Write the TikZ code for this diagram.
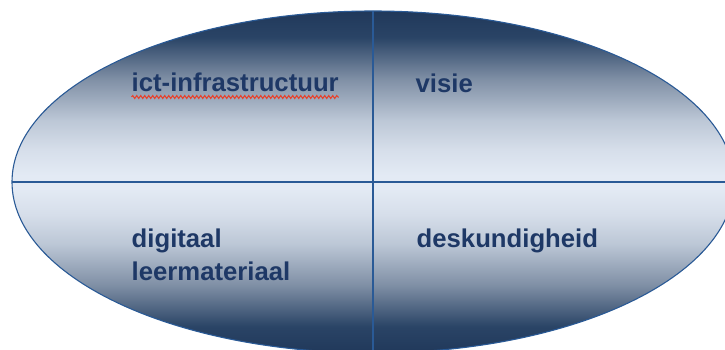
\documentclass[tikz,border=0pt]{standalone}
\usepackage{fontspec}
\setmainfont{Liberation Sans}
\usetikzlibrary{decorations.pathmorphing}
\definecolor{navy}{HTML}{20385A}
\definecolor{deepblue}{HTML}{2A4466}
\definecolor{midblue}{HTML}{7F8FA5}
\definecolor{softblue}{HTML}{BCC7D6}
\definecolor{mistblue}{HTML}{D6DEEA}
\definecolor{pale}{HTML}{E3EAF4}
\definecolor{rimblue}{HTML}{2A5A96}
\definecolor{ink}{HTML}{1E3866}
\definecolor{spell}{HTML}{E8402A}
% dark at the rim, pale at the middle line
\pgfdeclareverticalshading{upperhalf}{100bp}{color(0bp)=(pale); color(27bp)=(pale);
  color(34.5bp)=(mistblue); color(43bp)=(softblue); color(55bp)=(midblue);
  color(67bp)=(deepblue); color(75bp)=(navy); color(100bp)=(navy)}
\pgfdeclareverticalshading{lowerhalf}{100bp}{color(0bp)=(navy); color(25bp)=(navy);
  color(33bp)=(deepblue); color(45bp)=(midblue); color(57bp)=(softblue);
  color(65.5bp)=(mistblue); color(73bp)=(pale); color(100bp)=(pale)}
\begin{document}
\begin{tikzpicture}[x=1pt,y=1pt,
  lbl/.style={anchor=base west,inner sep=0pt,text=ink,align=left,
    font=\fontsize{25.7pt}{32.5pt}\selectfont\bfseries}]
\useasboundingbox (0,0) rectangle (725,349);
% centre of the oval
\coordinate (c) at (373,167);
% shaded halves
\begin{scope}
\clip (c) ellipse (361 and 171);
\shade[shading=upperhalf] (0,167) rectangle (740,339);
\shade[shading=lowerhalf] (0,-5) rectangle (740,167);
\end{scope}
% outline and cross
\draw[rimblue,line width=1.1pt] (c) ellipse (361 and 171);
\coordinate (top) at (373,338);
\coordinate (bot) at (373,-5);
\coordinate (lft) at (12,167);
\coordinate (rgt) at (740,167);
\draw[rimblue,line width=1.6pt] (top) -- (bot);
\draw[rimblue,line width=1.6pt] (lft) -- (rgt);
% labels
\node[lbl] (ict) at (131.5,258) {ict-infrastructuur};
\node[lbl] (vis) at (415.5,257) {visie};
\node[lbl] (dig) at (131.5,69) {digitaal\\leermateriaal};
\node[lbl] (des) at (416.5,102) {deskundigheid};
% spelling mark
\draw[spell,line width=1pt,decoration={snake,amplitude=1.5pt,segment length=4pt},decorate]
  ([yshift=-6pt]ict.base west) -- ([yshift=-6pt]ict.base east);
\end{tikzpicture}
\end{document}
